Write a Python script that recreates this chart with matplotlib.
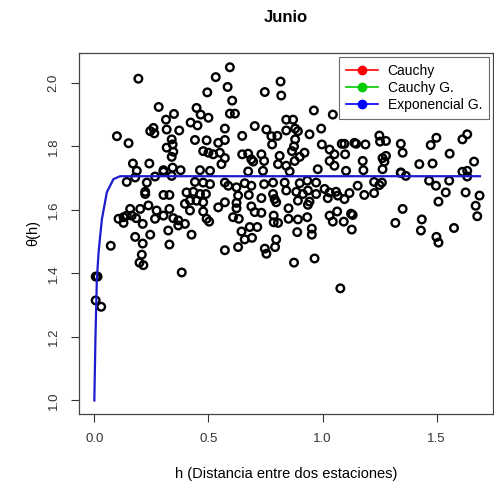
import matplotlib
matplotlib.use("Agg")
import matplotlib.pyplot as plt
from matplotlib.lines import Line2D

plt.rcParams['font.family'] = ['Liberation Sans', 'DejaVu Sans']

# empirical semivariogram points (h, theta)
h_pts = [
    0.006, 0.006, 0.030, 0.014,
    0.193, 0.532, 0.495, 0.282, 0.349, 0.448, 0.466, 0.500, 0.314, 0.422,
    0.452, 0.259, 0.245, 0.263, 0.317, 0.372, 0.099, 0.150, 0.339, 0.343,
    0.317, 0.441, 0.492, 0.543, 0.346, 0.477, 0.500, 0.521, 0.550, 0.339,
    0.169, 0.241, 0.186, 0.303, 0.343, 0.378, 0.463, 0.507,
    0.594, 0.584, 0.816, 0.747, 0.819, 0.604, 0.594, 0.616, 0.962, 1.045,
    0.572, 0.703, 0.648, 0.754, 0.776, 0.802, 0.841, 0.871, 0.841, 0.880,
    0.892, 0.880, 0.943, 0.994, 0.572, 0.779, 0.875, 0.866, 0.921, 0.900,
    0.997, 1.031, 1.052, 1.084, 1.096, 1.140, 1.099, 0.648, 0.674, 0.688,
    0.696, 0.732, 0.744, 0.812, 0.572, 0.557, 0.805, 0.841, 0.878, 1.031,
    1.052, 0.979, 0.674, 0.739, 0.856, 1.103,
    1.147, 1.188, 1.249, 1.252, 1.278, 1.343, 1.351, 1.278, 1.263, 1.271,
    1.176, 1.474, 1.499, 1.557, 1.613, 1.634, 1.664, 1.424, 1.482, 1.179,
    1.263, 1.343, 1.634,
    0.142, 0.179, 0.230, 0.266, 0.303, 0.339, 0.441, 0.477, 0.507, 0.223,
    0.223, 0.303, 0.329, 0.404, 0.434, 0.463, 0.489, 0.397, 0.419, 0.448,
    0.477, 0.419, 0.477, 0.543, 0.237, 0.201, 0.157, 0.273, 0.329, 0.106,
    0.128, 0.142, 0.164, 0.183, 0.128, 0.212, 0.266, 0.303, 0.346, 0.368,
    0.397, 0.368, 0.492, 0.503, 0.179, 0.245, 0.324, 0.426, 0.072, 0.212,
    0.329, 0.208, 0.198, 0.215, 0.383,
    0.572, 0.587, 0.623, 0.659, 0.688, 0.744, 0.783, 0.834, 0.900, 0.933,
    0.972, 0.630, 0.677, 0.732, 0.783, 0.790, 0.841, 0.885, 0.914, 0.936,
    0.972, 1.009, 1.031, 1.059, 1.118, 0.572, 0.623, 0.623, 0.688, 0.703,
    0.732, 0.797, 0.892, 0.936, 0.943, 1.023, 1.067, 1.096, 0.608, 0.633,
    0.786, 0.786, 0.805, 0.851, 0.851, 0.892, 0.933, 1.031, 1.064, 1.045,
    1.093, 1.125, 1.128, 0.645, 0.681, 0.714, 0.659, 0.691, 0.889, 0.953,
    0.953, 0.797, 0.792, 0.747, 0.754, 0.630, 0.572, 0.875, 0.965, 1.078,
    1.343, 1.365, 1.613, 1.634, 1.154, 1.183, 1.226, 1.249, 1.260, 1.226,
    1.467, 1.497, 1.555, 1.540, 1.508, 1.627, 1.688, 1.671, 1.678, 1.351,
    1.132, 1.319, 1.435, 1.431, 1.499, 1.508, 1.576,
]
theta_pts = [
    1.390, 1.315, 1.295, 1.390,
    2.013, 2.018, 1.970, 1.924, 1.902, 1.921, 1.900, 1.890, 1.884, 1.875,
    1.866, 1.858, 1.848, 1.841, 1.853, 1.850, 1.832, 1.810, 1.822, 1.806,
    1.796, 1.820, 1.819, 1.811, 1.783, 1.785, 1.780, 1.775, 1.780, 1.767,
    1.746, 1.746, 1.723, 1.725, 1.733, 1.725, 1.725, 1.723,
    2.049, 1.987, 2.004, 1.971, 1.960, 1.944, 1.903, 1.903, 1.913, 1.900,
    1.856, 1.864, 1.833, 1.853, 1.832, 1.833, 1.884, 1.884, 1.850, 1.856,
    1.848, 1.822, 1.838, 1.856, 1.820, 1.806, 1.800, 1.785, 1.780, 1.767,
    1.806, 1.790, 1.775, 1.808, 1.808, 1.811, 1.775, 1.775, 1.777, 1.759,
    1.752, 1.775, 1.754, 1.770, 1.763, 1.744, 1.744, 1.739, 1.754, 1.754,
    1.739, 1.728, 1.721, 1.723, 1.721, 1.723,
    1.808, 1.806, 1.834, 1.815, 1.817, 1.808, 1.780, 1.770, 1.763, 1.752,
    1.754, 1.804, 1.827, 1.777, 1.822, 1.838, 1.752, 1.744, 1.746, 1.725,
    1.728, 1.718, 1.723,
    1.688, 1.702, 1.686, 1.705, 1.720, 1.707, 1.688, 1.686, 1.681, 1.657,
    1.650, 1.647, 1.647, 1.655, 1.657, 1.650, 1.650, 1.619, 1.629, 1.629,
    1.624, 1.598, 1.595, 1.608, 1.614, 1.603, 1.603, 1.598, 1.603, 1.572,
    1.577, 1.582, 1.582, 1.574, 1.559, 1.556, 1.572, 1.582, 1.574, 1.567,
    1.556, 1.551, 1.572, 1.563, 1.515, 1.522, 1.535, 1.522, 1.487, 1.494,
    1.491, 1.459, 1.434, 1.426, 1.403,
    1.686, 1.676, 1.671, 1.684, 1.676, 1.681, 1.686, 1.686, 1.684, 1.692,
    1.686, 1.645, 1.647, 1.637, 1.650, 1.634, 1.661, 1.657, 1.650, 1.661,
    1.650, 1.666, 1.655, 1.657, 1.653, 1.624, 1.622, 1.605, 1.611, 1.593,
    1.591, 1.624, 1.629, 1.616, 1.626, 1.637, 1.645, 1.634, 1.577, 1.572,
    1.582, 1.561, 1.559, 1.605, 1.572, 1.570, 1.577, 1.582, 1.595, 1.563,
    1.563, 1.588, 1.538, 1.532, 1.546, 1.546, 1.507, 1.512, 1.530, 1.541,
    1.522, 1.507, 1.483, 1.478, 1.462, 1.483, 1.473, 1.434, 1.447, 1.353,
    1.716, 1.707, 1.720, 1.705, 1.676, 1.647, 1.688, 1.678, 1.686, 1.653,
    1.692, 1.676, 1.692, 1.655, 1.626, 1.655, 1.645, 1.613, 1.580, 1.603,
    1.584, 1.559, 1.570, 1.535, 1.515, 1.497, 1.543,
]

# fitted exponential model curve
h_fit = [0.0, 0.005, 0.011, 0.019, 0.033, 0.055, 0.084, 0.113, 0.15, 1.69]
theta_fit = [1.0, 1.20, 1.38, 1.47, 1.57, 1.656, 1.697, 1.706, 1.706, 1.706]

legend_names = ['Cauchy', 'Cauchy G.', 'Exponencial G.']
legend_colors = ['red', '#00cc00', 'blue']

fig = plt.figure(figsize=(4.94, 4.95), dpi=100)
ax = fig.add_axes([0.16, 0.164, 0.838, 0.729])

ax.scatter(h_pts, theta_pts, s=30, facecolors='none', edgecolors='black',
           linewidths=1.7, zorder=3)
ax.plot(h_fit, theta_fit, color='#1c1ccc', lw=1.6, zorder=4)

ax.set_xlim(-0.067, 1.747)
ax.set_ylim(0.958, 2.094)
ax.set_xticks([0.0, 0.5, 1.0, 1.5])
ax.set_xticklabels(['0.0', '0.5', '1.0', '1.5'])
ax.set_yticks([1.0, 1.2, 1.4, 1.6, 1.8, 2.0])
ax.set_yticklabels(['1.0', '1.2', '1.4', '1.6', '1.8', '2.0'], rotation=90, va='center')
ax.tick_params(direction='out', length=6, width=0.8, labelsize=9.5, pad=8, colors='#333333')
for sp in ax.spines.values():
    sp.set_linewidth(0.9)
    sp.set_color('#444444')

ax.set_xlabel('h (Distancia entre dos estaciones)', fontsize=10.5, labelpad=16)
ax.set_ylabel('θ(h)', fontsize=10.5, labelpad=5)
ax.set_title('Junio', fontsize=12, fontweight='bold', pad=22)

handles = [Line2D([0], [0], color=c, marker='o', markersize=6, lw=1.2)
           for c in legend_colors]
leg = ax.legend(handles, legend_names, loc='upper right', fontsize=10,
                frameon=True, fancybox=False, borderaxespad=0.3,
                handlelength=2.3, handletextpad=0.7, labelspacing=0.2,
                borderpad=0.5)
leg.get_frame().set_edgecolor('#444444')
leg.get_frame().set_linewidth(0.8)

fig.savefig('out.png', dpi=100)
